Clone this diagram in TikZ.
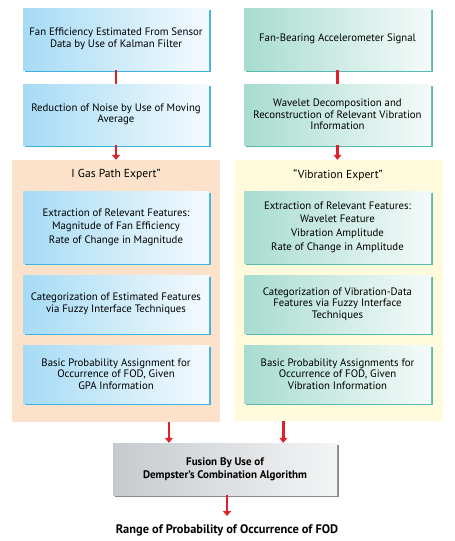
\documentclass[tikz,border=0pt]{standalone}
\usepackage{fontspec}
\setmainfont{PT Sans}
\usepackage{xcolor}
\usetikzlibrary{
    arrows.meta,
    calc,
    positioning,
    shadows
}
\definecolor{gasblue}{HTML}{A6DBF5}
\definecolor{gasedge}{HTML}{3BB2E0}
\definecolor{vibteal}{HTML}{A8DCD0}
\definecolor{vibedge}{HTML}{5BBAB0}
\definecolor{fusegray}{HTML}{C6CACE}
\definecolor{fuseedge}{HTML}{8A8A8A}
\definecolor{gaspanel}{HTML}{FCE2CA}
\definecolor{vibpanel}{HTML}{FFFADC}
\definecolor{flowred}{HTML}{E0202A}
\tikzset{
    stepbase/.style={inner sep=2pt, align=center, font=\fontsize{10.8}{11.6}\selectfont},
    gasbox/.style={stepbase, minimum width=186pt, left color=gasblue, right color=gasblue!12,
        drop shadow={shadow xshift=1.5pt, shadow yshift=-1.5pt, fill=gasedge, opacity=1}},
    vibbox/.style={stepbase, minimum width=187pt, left color=vibteal, right color=vibteal!12,
        drop shadow={shadow xshift=1.5pt, shadow yshift=-1.5pt, fill=vibedge, opacity=1}},
    fusebox/.style={stepbase, minimum width=224pt, minimum height=52pt, left color=fusegray, right color=fusegray!20,
        drop shadow={shadow xshift=1.5pt, shadow yshift=-1.5pt, fill=fuseedge, opacity=1}},
    panel/.style={inner sep=0pt, minimum width=208pt, minimum height=262pt},
    flow/.style={draw=flowred, line width=2.6pt},
    flowarr/.style={flow, -{Triangle[width=8pt,length=5pt]}}
}

\begin{document}
\begin{tikzpicture}[x=1pt, y=-1pt]
    \useasboundingbox[fill=white] (0,0) rectangle (455,541);
    % expert panels
    \node[panel, fill=gaspanel] (gpanel) at (116,291) {};
    \node[panel, fill=vibpanel, minimum width=209pt, minimum height=261pt] (vpanel) at (338.5,290.5) {};
    \node[stepbase, font=\fontsize{11.6}{13}\selectfont] (gtitle) at (116,175) {I Gas Path Expert”};
    \node[stepbase, font=\fontsize{11.6}{13}\selectfont] (vtitle) at (338,175) {“Vibration Expert”};
    % gas path column
    \node[gasbox, minimum height=62pt] (kalman) at (116,39) {Fan Efficiency Estimated From Sensor\\Data by Use of Kalman Filter};
    \node[gasbox, minimum height=61pt] (noise) at (116,114.5) {Reduction of Noise by Use of Moving\\Average};
    \node[gasbox, minimum height=72pt] (gfeat) at (116,227) {Extraction of Relevant Features:\\[2pt]Magnitude of Fan Efficiency\\[2pt]Rate of Change in Magnitude};
    \node[gasbox, minimum height=58pt] (gcat) at (116,304) {Categorization of Estimated Features\\via Fuzzy Interface Techniques};
    \node[gasbox, minimum height=58pt] (gbpa) at (116,374) {Basic Probability Assignment for\\Occurrence of FOD, Given\\GPA Information};
    % vibration column
    \node[vibbox, minimum height=62pt] (accel) at (337.5,39) {Fan-Bearing Accelerometer Signal};
    \node[vibbox, minimum height=61pt] (wavelet) at (337.5,114.5) {Wavelet Decomposition and\\Reconstruction of Relevant Vibration\\Information};
    \node[vibbox, minimum height=72pt] (vfeat) at (337.5,227) {Extraction of Relevant Features:\\[2pt]Wavelet Feature\\[2pt]Vibration Amplitude\\[2pt]Rate of Change in Amplitude};
    \node[vibbox, minimum height=58pt] (vcat) at (337.5,304) {Categorization of Vibration-Data\\Features via Fuzzy Interface\\Techniques};
    \node[vibbox, minimum height=58pt] (vbpa) at (337.5,374) {Basic Probability Assignments for\\Occurrence of FOD, Given\\Vibration Information};
    % fusion
    \node[fusebox, font=\fontsize{11}{13}\selectfont\bfseries] (fusion) at (225,469) {Fusion By Use of\\Dempster's Combination Algorithm};
    \node[stepbase, font=\fontsize{12.4}{14}\selectfont\bfseries] (range) at (227,530) {Range of Probability of Occurrence of FOD};
    \coordinate (fl) at ($(fusion.north west)!0.25!(fusion.north east)$);
    \coordinate (fr) at ($(fusion.north west)!0.76!(fusion.north east)$);
    \coordinate (rtop) at (227,516);
    % connectors
    \draw[flow] (kalman.south) -- (noise.north);
    \draw[flow] (accel.south) -- (wavelet.north);
    \draw[flowarr] (noise.south) -- (gpanel.north);
    \draw[flowarr] (wavelet.south) -- (vpanel.north -| wavelet.south);
    \draw[flowarr] (gpanel.south -| fl) -- (fl);
    \draw[flowarr] (vpanel.south -| fr) -- (fr);
    \draw[flowarr] (fusion.south -| rtop) -- (rtop);
\end{tikzpicture}
\end{document}
